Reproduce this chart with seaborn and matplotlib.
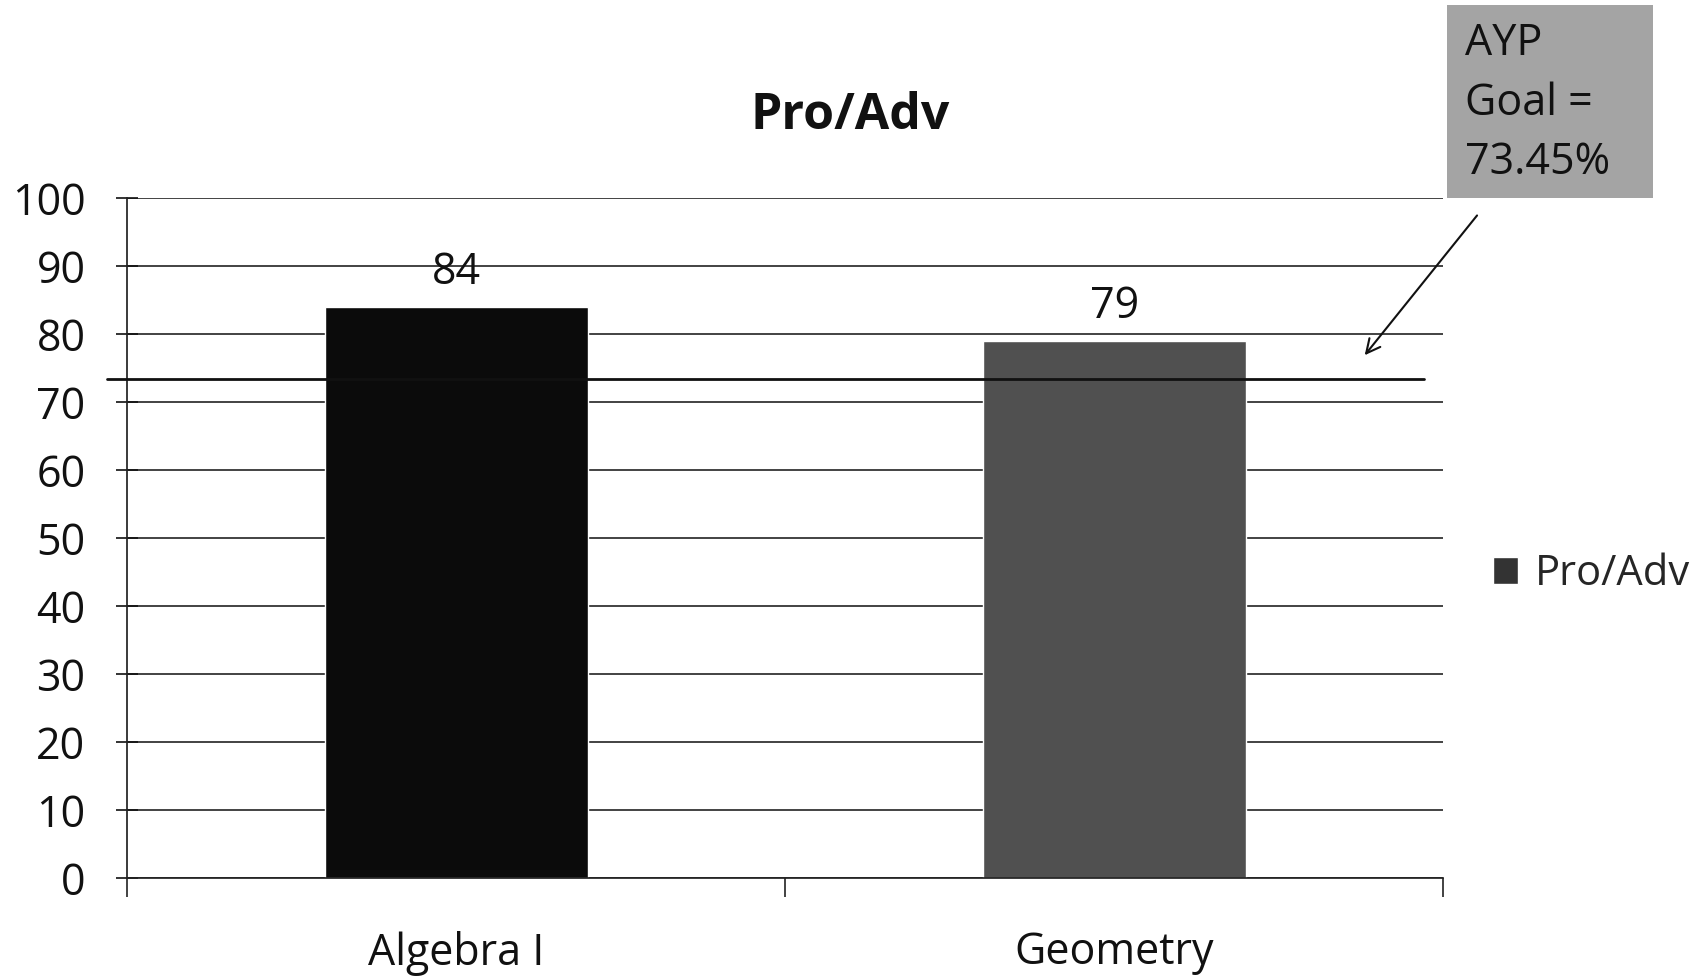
import matplotlib
matplotlib.use("Agg")
import matplotlib.pyplot as plt
import seaborn as sns
import pandas as pd
from matplotlib.patches import Patch, Rectangle

subjects = ["Algebra I", "Geometry"]
pro_adv = [84, 79]
bar_colors = ["#0b0b0b", "#505050"]
ayp_goal = 73.45
ayp_lines = ["AYP", "Goal =", "73.45%"]
y_ticks = list(range(0, 101, 10))

sns.set_theme(style="white")
plt.rcParams["font.family"] = ["Open Sans", "DejaVu Sans"]

df = pd.DataFrame({"subject": subjects, "value": pro_adv})

fig = plt.figure(figsize=(17.08, 9.77), dpi=100)
ax = fig.add_axes([0.0744, 0.1013, 0.7706, 0.6957])

sns.barplot(data=df, x="subject", y="value", hue="subject",
            palette=bar_colors, width=0.4, saturation=1, legend=False, ax=ax)

for c in ax.containers:
    ax.bar_label(c, fmt="%d", padding=9, fontsize=31, color="#111111")

ax.set_ylim(0, 100)
ax.set_xlim(-0.5, 1.5)
ax.set_yticks(y_ticks)
ax.yaxis.grid(True, color="#222222", linewidth=1.2)
ax.set_axisbelow(True)
ax.set_xlabel("")
ax.set_ylabel("")

for s in ["top", "right"]:
    ax.spines[s].set_visible(False)
ax.spines["left"].set_color("#222222")
ax.spines["bottom"].set_color("#222222")
ax.tick_params(axis="y", direction="inout", length=16, width=1.2,
               labelsize=31, pad=22, colors="#111111", left=True)
ax.set_xticks([-0.5, 0.5, 1.5], minor=True)
ax.tick_params(axis="x", which="major", length=0, labelsize=31,
               pad=38, colors="#111111")
ax.tick_params(axis="x", which="minor", direction="out", length=14,
               width=1.2, color="#222222", bottom=True)

# AYP goal line, reaches a little past the y-axis on the left
ax.plot([-0.53, 1.47], [ayp_goal, ayp_goal], color="#111111",
        linewidth=2, clip_on=False, zorder=5)

fig.text(0.4977, 0.881, "Pro/Adv", fontsize=36, fontweight="bold",
         ha="center", va="center", color="#111111")

# AYP goal callout box
fig.patches.append(Rectangle((0.847, 0.797), 0.121, 0.198,
                             transform=fig.transFigure, facecolor="#a4a4a4",
                             edgecolor="none", zorder=1))
for line, yy in zip(ayp_lines, [0.955, 0.894, 0.833]):
    fig.text(0.858, yy, line, fontsize=31, ha="left", va="center",
             color="#111111", zorder=2)

ax.annotate("", xy=(1.378, 76.6), xycoords="data",
            xytext=(1.027, 0.978), textcoords="axes fraction",
            arrowprops=dict(arrowstyle="->", color="#111111", lw=1.5,
                            mutation_scale=25))

ax.legend(handles=[Patch(facecolor="#333333", label="Pro/Adv")],
          loc="center left", bbox_to_anchor=(1.038, 0.447), frameon=False,
          fontsize=30, handlelength=0.6, handleheight=0.6,
          handletextpad=0.4, borderpad=0, borderaxespad=0)

fig.savefig("out.png", dpi=100, facecolor="white")
